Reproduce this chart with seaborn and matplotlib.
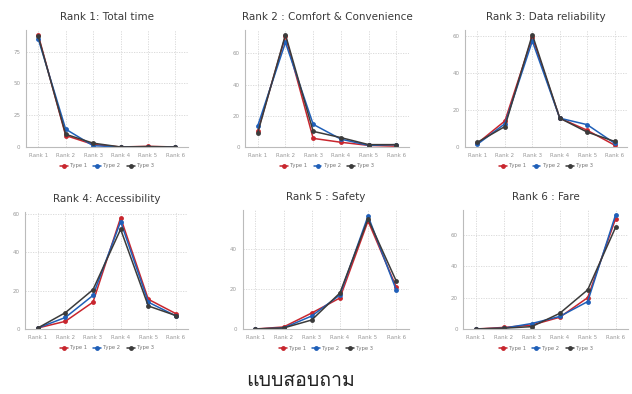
import pandas as pd
import seaborn as sns
import matplotlib.pyplot as plt
from matplotlib import font_manager
from fontTools.ttLib import TTFont

# Ranks on the x axis and the three respondent types
ranks = ["Rank 1", "Rank 2", "Rank 3", "Rank 4", "Rank 5", "Rank 6"]
types = ["Type 1", "Type 2", "Type 3"]

# Values (percent), one list per type
total_time_t1 = [88, 9, 2, 0, 0.5, 0]
total_time_t2 = [85, 14, 1, 0, 0, 0]
total_time_t3 = [87, 10, 3, 0, 0.3, 0]

comfort_t1 = [10, 71, 5.5, 3, 1, 0.5]
comfort_t2 = [13.5, 67, 14.5, 5, 1, 1.5]
comfort_t3 = [9, 72, 10, 6, 1.5, 1.5]

reliability_t1 = [2, 14, 59, 15.5, 9, 1]
reliability_t2 = [1.5, 12.5, 57, 15.5, 12, 2]
reliability_t3 = [2.5, 11, 60.5, 15.5, 8, 3]

access_t1 = [0.5, 4, 14, 58, 15.5, 8]
access_t2 = [0.5, 6, 17.5, 56, 14, 6.8]
access_t3 = [0.5, 8.5, 20.5, 52, 12, 7]

safety_t1 = [0, 1, 8, 15.5, 54, 21]
safety_t2 = [0, 0.5, 6.5, 17, 56.5, 19.5]
safety_t3 = [0, 0.5, 4.5, 18, 55, 24]

fare_t1 = [0, 1, 2.5, 7.5, 20, 70.5]
fare_t2 = [0, 0.5, 3.5, 8, 17.5, 73]
fare_t3 = [0, 0.5, 1.5, 10, 25, 65]

titles = ["Rank 1: Total time", "Rank 2 : Comfort & Convenience", "Rank 3: Data reliability",
          "Rank 4: Accessibility", "Rank 5 : Safety", "Rank 6 : Fare"]
series = [
    (total_time_t1, total_time_t2, total_time_t3),
    (comfort_t1, comfort_t2, comfort_t3),
    (reliability_t1, reliability_t2, reliability_t3),
    (access_t1, access_t2, access_t3),
    (safety_t1, safety_t2, safety_t3),
    (fare_t1, fare_t2, fare_t3),
]
y_tops = [92, 75, 63, 61, 59.5, 76]
y_ticks = [[0, 25, 50, 75], [0, 20, 40, 60], [0, 20, 40, 60],
           [0, 20, 40, 60], [0, 20, 40], [0, 20, 40, 60]]
caption = "แบบสอบถาม"

palette = {"Type 1": "#c8262e", "Type 2": "#1f5fb8", "Type 3": "#3b3b3b"}

# find a font that has Thai glyphs
thai_font = None
for f in font_manager.fontManager.ttflist:
    try:
        tt = TTFont(f.fname, fontNumber=0, lazy=True)
        if 0x0E41 in tt.getBestCmap():
            thai_font = f.name
            break
    except Exception:
        pass

sns.set_style("white")
plt.rcParams["font.family"] = ["DejaVu Sans"]

fig = plt.figure(figsize=(6.32, 3.94), dpi=100)
rects = [
    [0.041, 0.627, 0.256, 0.297],
    [0.388, 0.627, 0.259, 0.297],
    [0.736, 0.627, 0.256, 0.297],
    [0.040, 0.165, 0.258, 0.297],
    [0.384, 0.165, 0.263, 0.302],
    [0.733, 0.165, 0.261, 0.302],
]

for i in range(6):
    ax = fig.add_axes(rects[i])
    rows = []
    for t, vals in zip(types, series[i]):
        for r, v in zip(ranks, vals):
            rows.append({"Rank": r, "Value": v, "Type": t})
    df = pd.DataFrame(rows)
    sns.lineplot(data=df, x="Rank", y="Value", hue="Type", palette=palette,
                 marker="o", markersize=3.5, markeredgewidth=0, linewidth=1.1,
                 sort=False, ax=ax)
    ax.set_xlim(-0.45, 5.45)
    ax.set_ylim(0, y_tops[i])
    ax.set_yticks(y_ticks[i])
    ax.set_xlabel("")
    ax.set_ylabel("")
    ax.grid(True, color="#d6d6d6", linestyle=(0, (1.5, 1.5)), linewidth=0.6)
    ax.tick_params(length=0, labelsize=4, labelcolor="#999999", pad=4)
    for s in ["top", "right"]:
        ax.spines[s].set_visible(False)
    for s in ["left", "bottom"]:
        ax.spines[s].set_color("#bbbbbb")
        ax.spines[s].set_linewidth(0.8)
    ax.set_title(titles[i], fontsize=7.5, color="#3a3a3a", pad=7)
    sns.move_legend(ax, "upper center", bbox_to_anchor=(0.5, -0.1), ncol=3,
                    frameon=False, title=None, fontsize=3.8, handlelength=1.5,
                    columnspacing=1.2, handletextpad=0.4)
    for txt in ax.get_legend().get_texts():
        txt.set_color("#777777")

fam = [thai_font, "DejaVu Sans"] if thai_font else ["DejaVu Sans"]
fig.text(0.475, 0.033, caption, ha="center", va="center", fontsize=14,
         color="#222222", family=fam)

fig.savefig("out.png", dpi=100, facecolor="white")
